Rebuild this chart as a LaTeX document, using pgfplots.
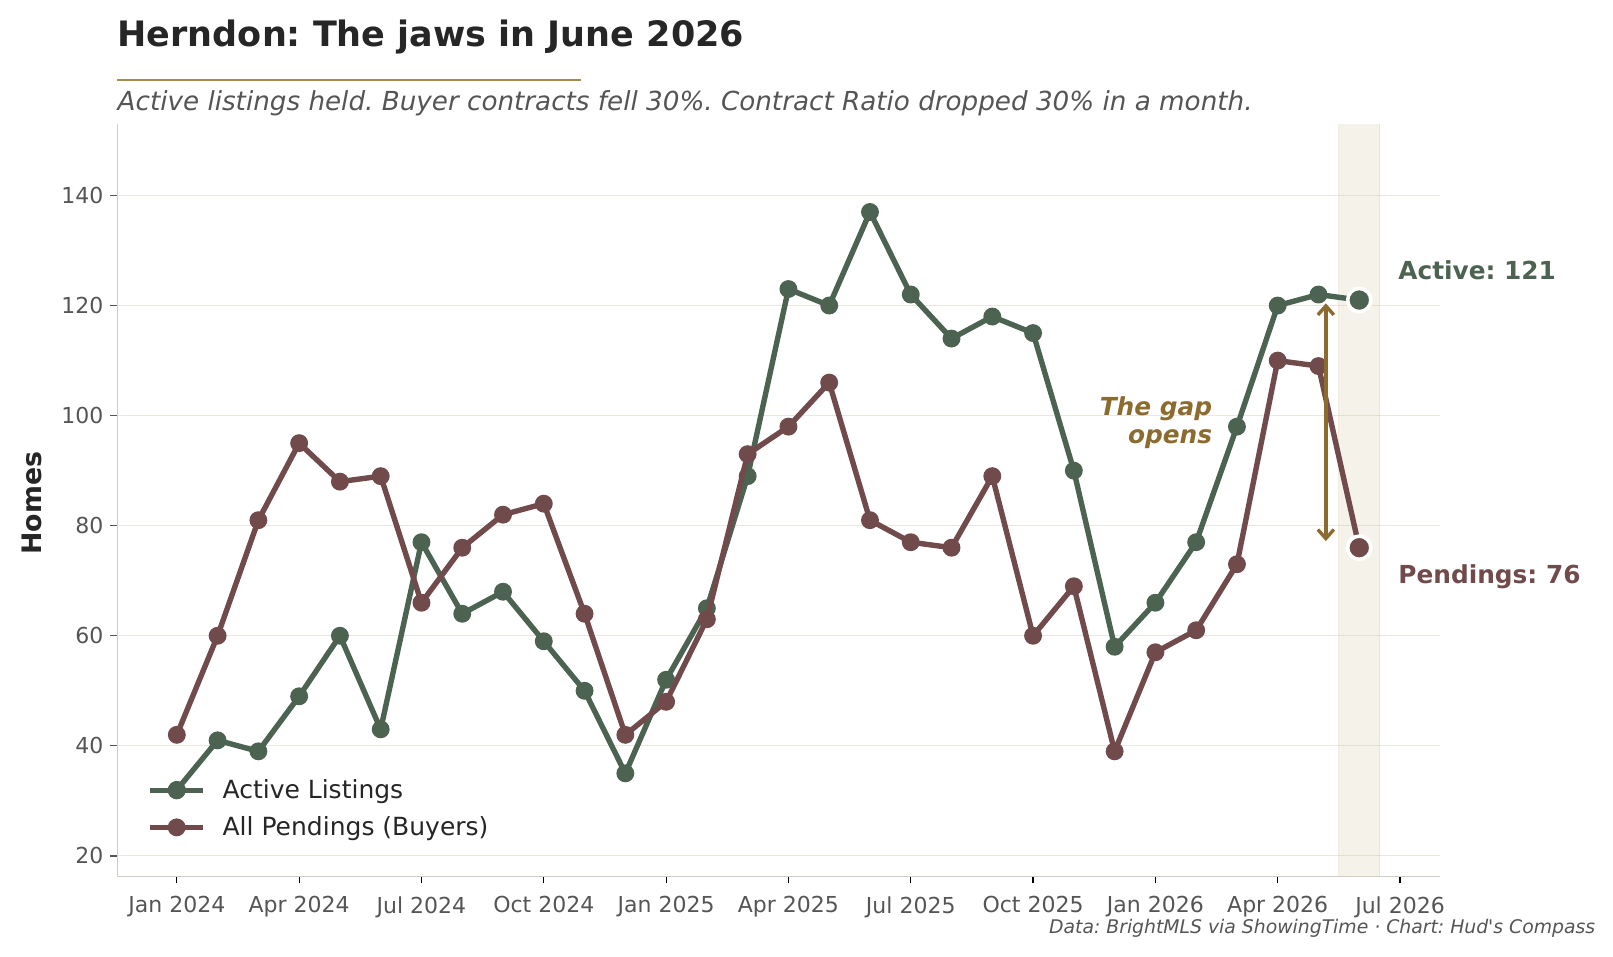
\documentclass[border=0pt]{standalone}
\usepackage{pgfplots}
\pgfplotsset{compat=1.18}
\usepackage{pgfplotstable}
\usepackage{fontspec}
\setmainfont{DejaVu Sans}[Ligatures=TeXOff]
\usetikzlibrary{arrows.meta}
\frenchspacing
\definecolor{active}{HTML}{4D6352}
\definecolor{pend}{HTML}{714B4C}
\definecolor{goldtxt}{HTML}{8B6B2E}
\definecolor{goldline}{HTML}{A88A4E}
\definecolor{band}{HTML}{D8CCA8}
\definecolor{spine}{HTML}{D3CEC3}
\definecolor{gridc}{HTML}{E9E7DF}
\definecolor{ticklab}{HTML}{555555}
\definecolor{titlec}{HTML}{262626}

\pgfplotstableread{
m active pend
0 32 42
1 41 60
2 39 81
3 49 95
4 60 88
5 43 89
6 77 66
7 64 76
8 68 82
9 59 84
10 50 64
11 35 42
12 52 48
13 65 63
14 89 93
15 123 98
16 120 106
17 137 81
18 122 77
19 114 76
20 118 89
21 115 60
22 90 69
23 58 39
24 66 57
25 77 61
26 98 73
27 120 110
28 122 109
29 121 76
}\datatable

\begin{document}
\begin{tikzpicture}
\useasboundingbox (0,0) rectangle (806.5pt,478.5pt);
\begin{axis}[
  scale only axis,
  width=661.35pt, height=376pt,
  at={(58.65pt,40.25pt)}, anchor=south west,
  xmin=-1.46, xmax=30.98,
  ymin=16.26, ymax=152.9,
  axis lines=left,
  axis line style={-, draw=spine, line width=0.7pt},
  clip mode=individual,
  xtick={0,3,...,30},
  xticklabels={Jan 2024,Apr 2024,Jul 2024,Oct 2024,Jan 2025,Apr 2025,Jul 2025,Oct 2025,Jan 2026,Apr 2026,Jul 2026},
  ytick={20,40,...,140},
  tick align=outside,
  major tick length=3.4pt,
  x tick style={draw=black, line width=0.6pt},
  y tick style={draw=ticklab, line width=0.6pt},
  /pgf/number format/assume math mode=true,
  tick label style={font=\fontsize{11}{13}\selectfont, text=ticklab},
  xticklabel style={yshift=-3pt},
  ymajorgrids=true,
  major grid style={draw=gridc, line width=0.5pt},
  legend style={draw=none, fill=none, at={(axis description cs:0.0223,0.135)}, anchor=north west,
    font=\fontsize{12.5}{15}\selectfont, text=titlec, row sep=3.5pt, inner sep=0pt},
  legend cell align=left,
  legend image code/.code={\draw[mark repeat=2,mark phase=2,#1] plot coordinates {(0pt,0pt)(13.4pt,0pt)(26.8pt,0pt)}; \path (33pt,0pt);},
]
\addplot[forget plot, fill=band, fill opacity=0.25, draw=band, draw opacity=0.35, line width=0.6pt]
  coordinates {(28.5,10) (29.5,10) (29.5,160) (28.5,160)} -- cycle;
\addplot[color=active, line width=2.7pt, mark=*, mark size=3.1pt, mark options={solid}] table[x=m, y=active] {\datatable};
\addlegendentry{Active Listings}
\addplot[color=pend, line width=2.7pt, mark=*, mark size=3.1pt, mark options={solid}] table[x=m, y=pend] {\datatable};
\addlegendentry{All Pendings (Buyers)}
\addplot[forget plot, only marks, mark=*, mark size=5.8pt, color=active, mark options={draw=white, line width=1.8pt}] coordinates {(29,121)};
\addplot[forget plot, only marks, mark=*, mark size=5.8pt, color=pend, mark options={draw=white, line width=1.8pt}] coordinates {(29,76)};
\draw[{Straight Barb[length=4.5pt,width=8pt]}-{Straight Barb[length=4.5pt,width=8pt]}, draw=goldtxt, line width=1.7pt]
  (axis cs:28.18,120.4) -- (axis cs:28.18,77.2);
\node[anchor=east, align=right, text=goldtxt, font=\fontsize{12.4}{14}\selectfont\bfseries\itshape, inner sep=0pt]
  at (axis cs:25.4,98.8) {The gap\\opens};
\node[anchor=west, text=active, font=\fontsize{12.4}{15}\selectfont\bfseries, inner sep=0pt]
  at (axis cs:29.95,126.4) {Active: 121};
\node[anchor=west, text=pend, font=\fontsize{12.4}{15}\selectfont\bfseries, inner sep=0pt]
  at (axis cs:29.95,70.8) {Pendings: 76};
\end{axis}
\node[anchor=base west, inner sep=0pt, text=titlec, font=\fontsize{17.5}{21}\selectfont\bfseries] at (58.65pt,455.35pt) {Herndon: The jaws in June 2026};
\draw[goldline, line width=1.1pt] (58.65pt,438.4pt) -- (290.6pt,438.4pt);
\node[anchor=base west, inner sep=0pt, text=ticklab, font=\fontsize{13.1}{16}\selectfont\itshape] at (58.65pt,423pt) {Active listings held. Buyer contracts fell 30\%. Contract Ratio dropped 30\% in a month.};
\node[anchor=base east, inner sep=0pt, text=ticklab, font=\fontsize{9.4}{11}\selectfont\itshape] at (797.75pt,11.5pt) {Data: BrightMLS via ShowingTime · Chart: Hud's Compass};
\node[rotate=90, inner sep=0pt, text=titlec, font=\fontsize{13.4}{16}\selectfont\bfseries] at (16pt,227pt) {Homes};
\end{tikzpicture}
\end{document}
